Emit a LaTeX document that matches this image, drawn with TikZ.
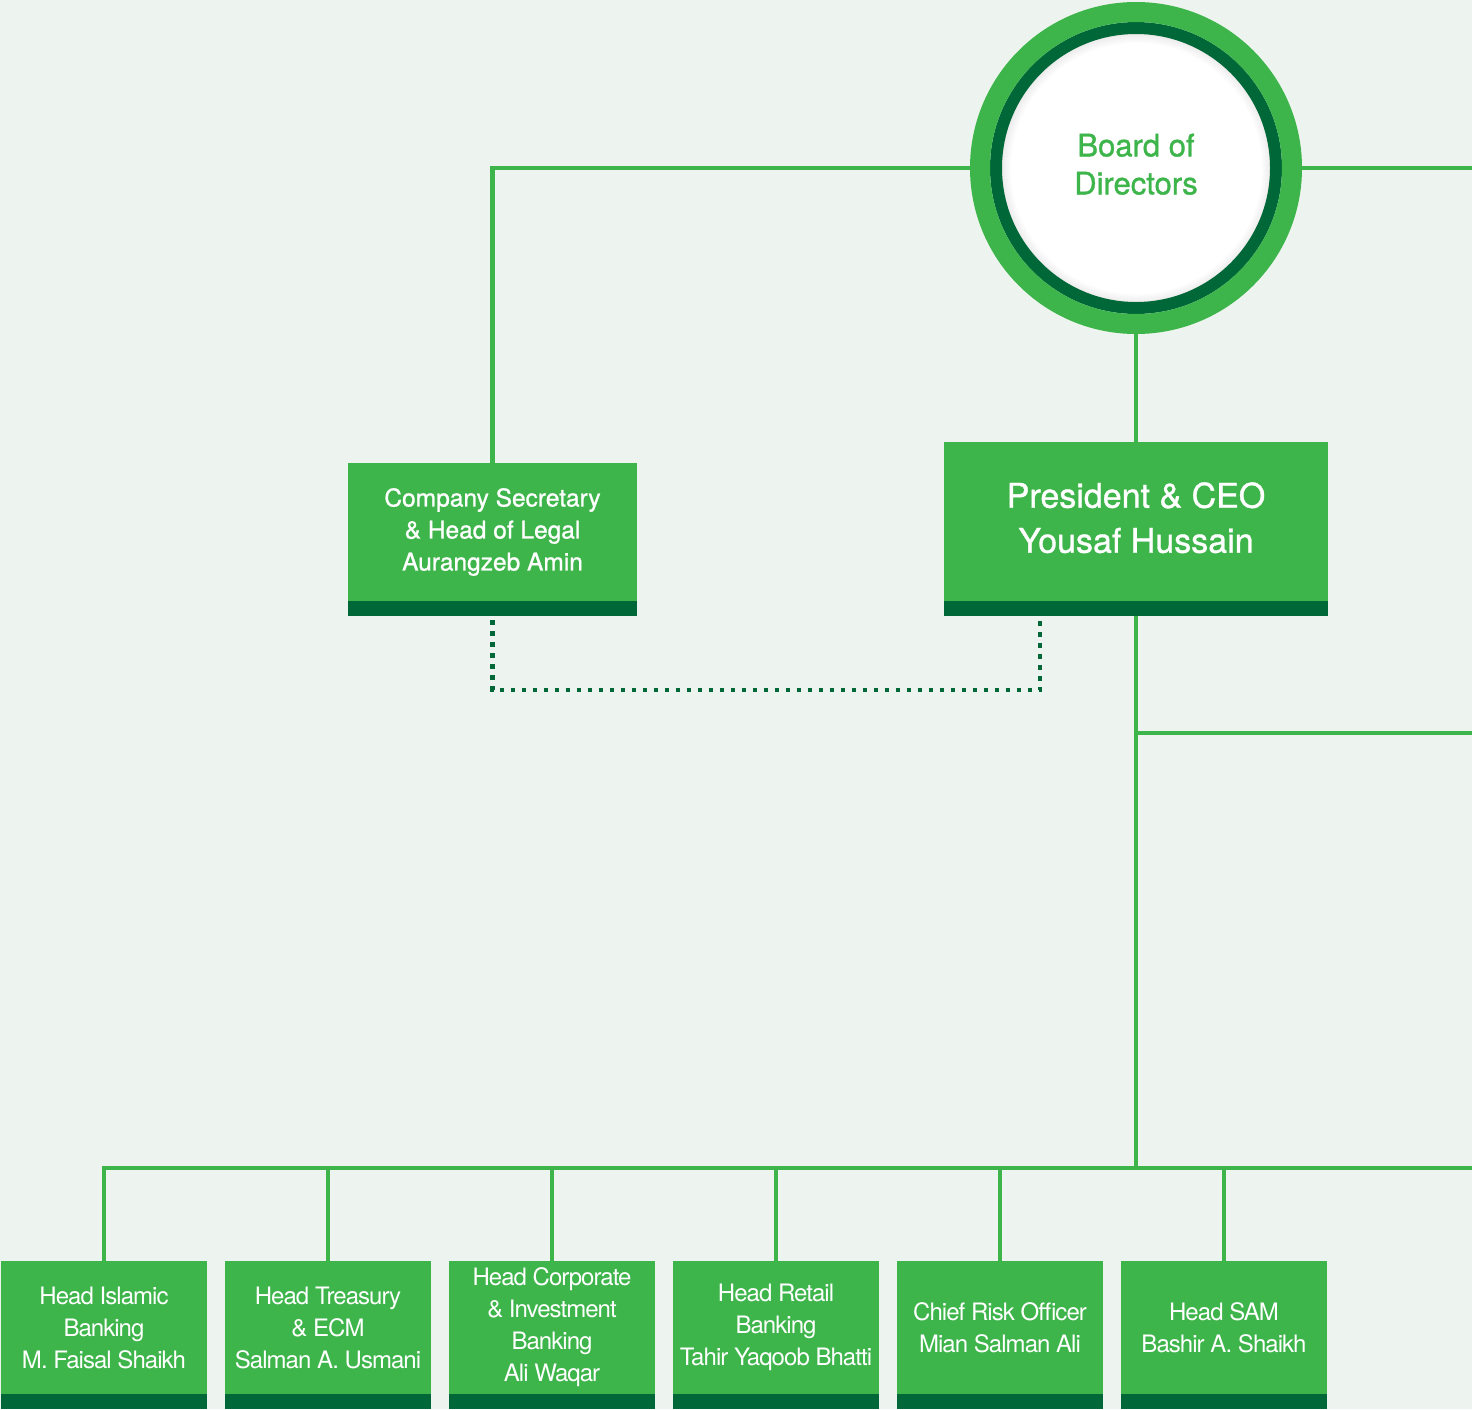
\documentclass[tikz,border=0pt]{standalone}
\usepackage{fontspec}
\setmainfont{TeX Gyre Heros}
\usepackage{tikz}
\usetikzlibrary{positioning,calc}
\usepackage{xcolor}
\definecolor{boardgreen}{RGB}{61,181,74}
\definecolor{darkgreen}{RGB}{0,104,56}
\definecolor{paper}{RGB}{237,244,239}
\pgfdeclareradialshading{discshade}{\pgfpoint{0bp}{0bp}}{%
    color(0bp)=(white); color(20bp)=(white); color(25bp)=(black!25)}

\tikzset{
    link/.style={boardgreen, line width=4.5pt},
    dotlink/.style={darkgreen, line width=4.5pt, dash pattern=on 4.5pt off 6.5pt},
    rolebox/.style={rectangle, fill=boardgreen, text=white, align=center, inner sep=0pt, outer sep=0pt},
    headbox/.style={rolebox, minimum width=206pt, minimum height=133pt,
        font=\fontsize{24}{32}\selectfont\addfontfeatures{LetterSpace=-4}},
}

\begin{document}
\begin{tikzpicture}[x=1pt, y=-1pt]

% Background
\fill[paper] (0,0) rectangle (1472,1409);
\useasboundingbox (0,0) rectangle (1472,1409);
\coordinate (edge) at (1480,0);

% Board
\node[circle, minimum size=312pt, inner sep=0pt, fill=white, draw=boardgreen, line width=20pt,
    text=boardgreen, align=center, font=\fontsize{31}{38}\selectfont\addfontfeatures{FakeBold=1},
    path picture={
        \shade[shading=discshade] (path picture bounding box.center) circle (135pt);
        \draw[darkgreen, line width=12pt] (path picture bounding box.center) circle (140pt);}]
    (bod) at (1136,168) {Board of\\Directors\\[-30pt]};

% Company Secretary and CEO
\node[rolebox, minimum width=289pt, minimum height=138pt,
    font=\fontsize{24.5}{32}\selectfont\addfontfeatures{FakeBold=1}]
    (sec) at (492.5,532) {Company Secretary\\\& Head of Legal\\Aurangzeb Amin};
\node[rolebox, minimum width=384pt, minimum height=159pt,
    font=\fontsize{34}{45}\selectfont\addfontfeatures{FakeBold=1}]
    (ceo) at (1136,521.5) {President \& CEO\\Yousaf Hussain\\[-37pt]};

% Heads
\foreach \x/\n/\t in {
    104/islamic/{Head Islamic\\Banking\\M. Faisal Shaikh},
    328/treasury/{Head Treasury\\\& ECM\\Salman A. Usmani},
    552/corporate/{Head Corporate\\\& Investment\\Banking\\Ali Waqar},
    776/retail/{Head Retail\\Banking\\Tahir Yaqoob Bhatti},
    1000/risk/{Chief Risk Officer\\Mian Salman Ali},
    1224/sam/{Head SAM\\Bashir A. Shaikh}}
    \node[headbox] (\n) at (\x,1327.5) {\t};

% Bars under the boxes
\foreach \n in {sec,ceo,islamic,treasury,corporate,retail,risk,sam}
    \fill[darkgreen] (\n.south west) rectangle ([yshift=-15pt]\n.south east);

% Lines
\coordinate (ceofoot) at ([yshift=-15pt]ceo.south);
\coordinate (bus) at (104,1168);
\coordinate (midbus) at (1136,733);
\draw[link] (bod.west) -| (sec.north);
\draw[link] (bod.east) -- (bod.east -| edge);
\draw[link] (bod.south) -- (ceo.north);
\draw[link] (ceofoot) -- (ceofoot |- bus);
\draw[link] (midbus) -- (midbus -| edge);
\draw[link] (islamic.north) |- (edge |- bus);
\foreach \n in {treasury,corporate,retail,risk,sam}
    \draw[link] (\n.north) -- (\n.north |- bus);

% Dotted link
\coordinate (secfoot) at ([yshift=-19pt]sec.south);
\coordinate (dotend) at ([xshift=96pt,yshift=-19pt]ceo.south west);
\draw[dotlink] (secfoot) -- ++(0,70) -| (dotend);

\end{tikzpicture}
\end{document}
